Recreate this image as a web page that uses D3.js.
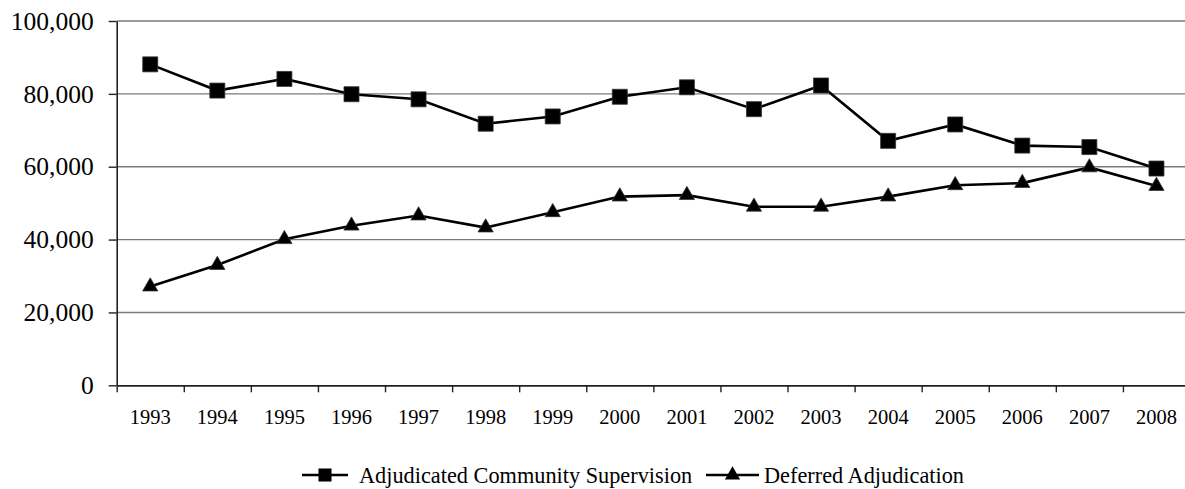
<!DOCTYPE html>
<html>
<head>
<meta charset="utf-8">
<script src="https://cdn.jsdelivr.net/npm/d3@7"></script>
<style>
  html, body { margin: 0; padding: 0; background: #fff; }
  svg { display: block; }
  svg text { font-family: "Liberation Serif", "Times New Roman", Times, "DejaVu Serif", serif !important; fill: #000; }
</style>
</head>
<body>
<svg id="chart" width="1185" height="489"></svg>
<script>
const years = ["1993","1994","1995","1996","1997","1998","1999","2000","2001","2002","2003","2004","2005","2006","2007","2008"];
const adjudicated = [88100, 80900, 84100, 79900, 78500, 71800, 73800, 79200, 81800, 75800, 82300, 67100, 71600, 65800, 65400, 59500];
const deferred = [27100, 33000, 40100, 43800, 46600, 43300, 47500, 51800, 52200, 49000, 49000, 51800, 54900, 55500, 59800, 54700];
const yTicks = [0, 20000, 40000, 60000, 80000, 100000];
const seriesNames = ["Adjudicated Community Supervision", "Deferred Adjudication"];

const FONT = '"Liberation Serif", "Times New Roman", Times, "DejaVu Serif", serif';
const svg = d3.select("#chart");
const plotLeft = 116.7, plotRight = 1190, plotTop = 21, plotBottom = 385.3;

const x = d3.scaleBand().domain(years).range([plotLeft, plotRight]);
const xEdge = d3.scaleLinear().domain([0, years.length]).range([plotLeft, plotRight]);
const y = d3.scaleLinear().domain([0, 100000]).range([plotBottom, plotTop]);

// gridlines
svg.append("g").selectAll("line").data(yTicks.filter(d => d > 0)).join("line")
  .attr("x1", plotLeft).attr("x2", plotRight)
  .attr("y1", d => y(d)).attr("y2", d => y(d))
  .attr("stroke", d => d === 100000 ? "#999" : "#7a7a7a")
  .attr("stroke-width", d => d === 100000 ? 1.8 : 1.4);

// y axis
const yAxis = svg.append("g").attr("transform", `translate(${plotLeft},0)`)
  .call(d3.axisLeft(y).tickValues(yTicks).tickFormat(d3.format(",")).tickSizeInner(8).tickSizeOuter(0).tickPadding(15))
  .attr("font-family", FONT);
yAxis.select(".domain").attr("stroke", "#222").attr("stroke-width", 1.6);
yAxis.selectAll(".tick line").attr("stroke", "#222").attr("stroke-width", 1.4);
yAxis.selectAll(".tick text").attr("font-size", 25.5).attr("fill", "#000");

// x axis: boundary ticks
const xAxis = svg.append("g").attr("transform", `translate(0,${plotBottom})`)
  .call(d3.axisBottom(xEdge).tickValues(d3.range(years.length + 1)).tickFormat("").tickSizeInner(7).tickSizeOuter(0));
xAxis.select(".domain").attr("stroke", "#222").attr("stroke-width", 1.8);
xAxis.selectAll(".tick line").attr("stroke", "#222").attr("stroke-width", 1.4);

// x labels
const xLab = svg.append("g").attr("transform", `translate(0,${plotBottom})`)
  .call(d3.axisBottom(x).tickSize(0).tickPadding(24))
  .attr("font-family", FONT);
xLab.select(".domain").remove();
xLab.selectAll(".tick text").attr("font-size", 20.5).attr("fill", "#000");

// lines
const line = d3.line().x((d, i) => x(years[i]) + x.bandwidth() / 2).y(d => y(d));
const series = [
  { name: seriesNames[0], values: adjudicated, symbol: d3.symbolSquare, size: 225 },
  { name: seriesNames[1], values: deferred, symbol: d3.symbolTriangle, size: 100 }
];

series.forEach(s => {
  svg.append("path").datum(s.values)
    .attr("d", line).attr("fill", "none").attr("stroke", "#000").attr("stroke-width", 2.6);
  svg.append("g").selectAll("path").data(s.values).join("path")
    .attr("transform", (d, i) => `translate(${x(years[i]) + x.bandwidth() / 2},${y(d)})`)
    .attr("d", d3.symbol().type(s.symbol).size(s.size))
    .attr("fill", "#000").attr("stroke", "#333").attr("stroke-width", 0.8);
});

// legend
const legendItems = [
  { x1: 302, x2: 348, text: 359 },
  { x1: 706, x2: 759, text: 764 }
];
const ly = 475;
series.forEach((s, i) => {
  const it = legendItems[i];
  svg.append("line").attr("x1", it.x1).attr("x2", it.x2).attr("y1", ly).attr("y2", ly)
    .attr("stroke", "#000").attr("stroke-width", 2.6);
  svg.append("path").attr("transform", `translate(${(it.x1 + it.x2) / 2},${ly})`)
    .attr("d", d3.symbol().type(s.symbol).size(i === 0 ? 170 : 100)).attr("fill", "#000");
  svg.append("text").attr("x", it.text).attr("y", ly).attr("dy", "0.35em")
    .attr("font-family", FONT).attr("font-size", 22.3).text(s.name);
});
</script>
</body>
</html>
